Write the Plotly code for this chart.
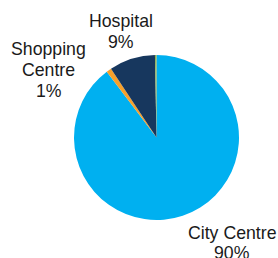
import plotly.graph_objects as go

categories = ["City Centre", "Shopping Centre", "Hospital", "Other"]
values = [89.7, 1.0, 9.0, 0.3]
colors = ["#00B0F0", "#F7A02A", "#17375E", "#8FAE55"]
label_lines = [["City Centre", "90%"], ["Shopping", "Centre", "1%"], ["Hospital", "9%"]]

W, H = 278, 258
cx, cy, r = 156.5, 137.5, 82.5

fig = go.Figure(go.Pie(
    labels=categories, values=values, sort=False, direction="clockwise",
    rotation=0, marker=dict(colors=colors, line=dict(width=0)),
    textinfo="none", hoverinfo="label+percent", showlegend=False,
    domain=dict(x=[(cx - r) / W, (cx + r) / W], y=[(H - cy - r) / H, (H - cy + r) / H]),
))

# (x centre, first line y centre) in pixels from top-left, line spacing
label_pos = [(232, 232.6), (48.5, 49), (120.5, 21.3)]
line_gap = 20.8
for lines, (px, py) in zip(label_lines, label_pos):
    for i, txt in enumerate(lines):
        fig.add_annotation(text=txt, x=px / W, y=(H - (py + i * line_gap)) / H,
                           xref="paper", yref="paper",
                           xanchor="center", yanchor="middle", showarrow=False,
                           font=dict(family="Liberation Sans, Arial", size=17.7, color="#1a1a1a"))

fig.update_layout(width=W, height=H, margin=dict(l=0, r=0, t=0, b=0),
                  paper_bgcolor="white", plot_bgcolor="white")
fig.write_html("out.html", config={"displayModeBar": False},
               post_script="document.body.style.margin='0';document.body.style.overflow='hidden';")
